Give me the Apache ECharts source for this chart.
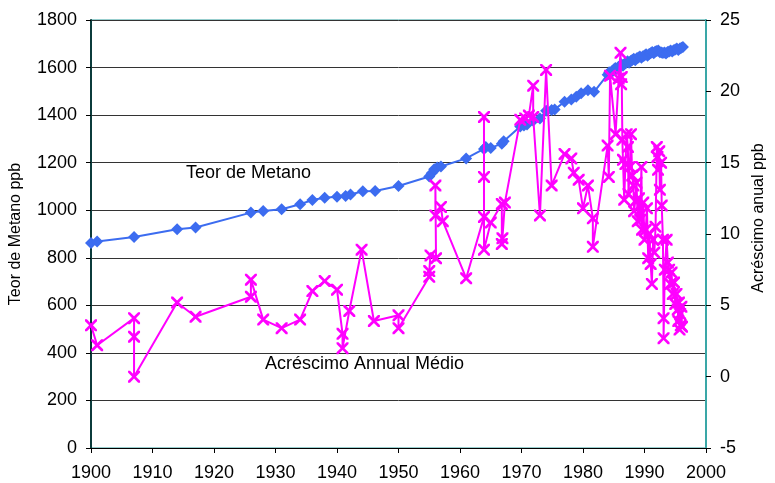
<!DOCTYPE html>
<html>
<head>
<meta charset="utf-8">
<script src="https://cdn.jsdelivr.net/npm/echarts@6/dist/echarts.min.js"></script>
<style>
  html, body { margin: 0; padding: 0; background: #fff; }
  #chart { width: 775px; height: 483px; }
</style>
</head>
<body>
<div id="chart"></div>
<script>
// Teor de Metano (ppb) - eixo esquerdo
const methaneYears = [
  1900, 1901, 1907, 1914, 1917, 1926, 1928, 1931, 1934, 1936, 1938, 1940, 1941.4, 1942.2,
  1944.2, 1946.2, 1950, 1955, 1955.4, 1955.8, 1956.3, 1956.9, 1961, 1963.9, 1964.2, 1965,
  1966.8, 1967.1, 1969.8, 1970.4, 1970.9, 1971.9, 1973, 1974, 1974.9, 1975.4, 1977, 1978.1,
  1978.9, 1979.7, 1980.8, 1981.8,
  1984.0, 1984.25, 1984.5, 1984.75, 1985.0, 1985.25, 1985.5, 1985.75, 1986.0, 1986.25,
  1986.5, 1986.75, 1987.0, 1987.25, 1987.5, 1987.75, 1988.0, 1988.25, 1988.5, 1988.75,
  1989.0, 1989.25, 1989.5, 1989.75, 1990.0, 1990.25, 1990.5, 1990.75, 1991.0, 1991.25,
  1991.5, 1991.75, 1992.0, 1992.25, 1992.5, 1992.75, 1993.0, 1993.25, 1993.5, 1993.75,
  1994.0, 1994.25, 1994.5, 1994.75, 1995.0, 1995.25, 1995.5, 1995.75, 1996.0, 1996.25
];
const methanePpb = [
  862, 868, 887, 920, 927, 990, 997, 1004, 1025, 1043, 1052, 1057, 1060, 1066,
  1080, 1081, 1102, 1142, 1155, 1172, 1180, 1184, 1218, 1258, 1266, 1262,
  1280, 1290, 1352, 1356, 1360, 1376, 1386, 1418, 1422, 1424, 1456, 1466,
  1477, 1492, 1505, 1498,
  1570, 1580, 1576, 1586, 1592, 1598, 1594, 1602, 1608, 1614,
  1608, 1616, 1620, 1626, 1620, 1628, 1632, 1637, 1631, 1639,
  1642, 1647, 1641, 1648, 1651, 1656, 1650, 1657, 1660, 1665,
  1660, 1667, 1670, 1672, 1664, 1663, 1661, 1663, 1659, 1665,
  1668, 1672, 1667, 1673, 1676, 1680, 1674, 1680, 1683, 1686
];

// Acréscimo anual (ppb/ano) - eixo direito
const growthYears = [
  1900, 1901, 1907, 1907, 1907, 1914, 1917, 1926, 1926, 1928, 1931, 1934, 1936, 1938,
  1940, 1940.9, 1940.9, 1942, 1944, 1946, 1950, 1950, 1955, 1955, 1955.2, 1956.1, 1956,
  1956, 1956.9, 1957.2, 1961, 1963.9, 1963.9, 1963.9, 1963.9, 1965, 1966.8, 1966.8,
  1966.9, 1967.3, 1969.8, 1970.6, 1971.2, 1971.9, 1971.9, 1973, 1974, 1974.9, 1977,
  1978.1, 1978.5, 1979.3, 1980, 1980.8, 1981.6, 1981.6,
  1984.0, 1984.2, 1984.4, 1985.3, 1985.8, 1986.1, 1986.2, 1986.3, 1986.4, 1986.5,
  1986.7, 1986.9, 1987.1, 1987.3, 1987.4, 1987.6, 1987.8, 1988.0, 1988.2, 1988.3,
  1988.5, 1988.7, 1988.9, 1989.1, 1989.3, 1989.5, 1989.6, 1989.8, 1990.0, 1990.2,
  1990.4, 1990.6, 1990.8, 1991.0, 1991.2, 1991.4, 1991.6, 1991.8, 1992.0, 1992.1,
  1992.2, 1992.4, 1992.5, 1992.7, 1992.8, 1993.0, 1993.1, 1993.1, 1993.3, 1993.6,
  1993.8, 1994.0, 1994.2, 1994.4, 1994.6, 1994.8, 1995.0, 1995.2, 1995.4, 1995.5,
  1995.6, 1995.7, 1995.8, 1995.9, 1996.0, 1996.1
];
const growthPpb = [
  3.6, 2.2, 4.1, 2.8, 0.0, 5.2, 4.2, 5.6, 6.8, 4.0, 3.4, 4.0, 6.0, 6.7,
  6.1, 3.0, 2.0, 4.6, 8.9, 3.9, 4.3, 3.4, 7.0, 7.4, 8.5, 8.3, 13.4,
  11.3, 11.9, 10.9, 6.9, 11.2, 18.2, 14.0, 8.9, 10.8, 12.1, 9.3,
  9.7, 12.2, 18.0, 18.1, 18.3, 20.4, 18.2, 11.3, 21.5, 13.4, 15.6,
  15.3, 14.3, 13.8, 11.8, 13.4, 11.1, 9.1,
  16.2, 14.0, 21.1, 17.0, 20.9, 22.7, 20.5, 21.0, 16.6, 15.2,
  12.4, 14.9, 17.0, 16.1, 12.8, 14.7, 17.0, 14.1, 13.4, 11.6,
  12.3, 13.6, 10.9, 12.5, 11.0, 14.7, 10.3, 12.2, 9.6, 10.3,
  11.8, 8.3, 10.0, 7.9, 6.5, 9.6, 8.7, 10.5, 16.1, 15.4,
  14.5, 15.8, 13.1, 15.0, 12.0, 9.6, 4.1, 2.7, 7.5, 9.6,
  8.0, 7.5, 6.5, 7.3, 5.8, 6.6, 5.1, 5.8, 4.7, 3.9,
  5.2, 3.3, 4.4, 3.6, 4.9, 3.5
];

const FONT = '"Liberation Sans", Arial, sans-serif';
const crossPath = 'path://M0,0L1.6,0L5,3.4L8.4,0L10,0L10,1.6L6.6,5L10,8.4L10,10L8.4,10L5,6.6L1.6,10L0,10L0,8.4L3.4,5L0,1.6Z';
const plain = (v) => String(v);

const chart = echarts.init(document.getElementById('chart'), null, { renderer: 'canvas' });

const option = {
  backgroundColor: '#fff',
  animation: false,
  textStyle: { fontFamily: FONT },
  grid: {
    left: 91, right: 62, top: 20, bottom: 35,
    show: true, borderColor: '#2e9c9c', borderWidth: 1, backgroundColor: '#fff'
  },
  xAxis: {
    type: 'value', min: 1900, max: 2000, interval: 10,
    axisLine: { lineStyle: { color: '#000', width: 1 } },
    axisTick: { show: true, length: 5, lineStyle: { color: '#000' } },
    axisLabel: { color: '#000', fontSize: 18, fontFamily: FONT, margin: 16, formatter: plain },
    splitLine: { show: false }
  },
  yAxis: [
    {
      type: 'value', min: 0, max: 1800, interval: 200, position: 'left',
      name: 'Teor de Metano ppb', nameLocation: 'middle', nameGap: 67, nameRotate: 90,
      nameTextStyle: { color: '#000', fontSize: 16, fontFamily: FONT },
      axisLine: { show: true, lineStyle: { color: '#0b3b3b', width: 2 } },
      axisTick: { show: true, length: 5, lineStyle: { color: '#000' } },
      axisLabel: { color: '#000', fontSize: 18, fontFamily: FONT, margin: 14, formatter: plain },
      splitLine: { show: true, lineStyle: { color: '#333', width: 1 } }
    },
    {
      type: 'value', min: -5, max: 25, interval: 5, position: 'right',
      name: 'Acréscimo anual ppb', nameLocation: 'middle', nameGap: 45, nameRotate: 90,
      nameTextStyle: { color: '#000', fontSize: 16, fontFamily: FONT, padding: [0, 0, 0, 32] },
      axisLine: { show: true, lineStyle: { color: '#3aa7a7', width: 2 } },
      axisTick: { show: true, length: 5, lineStyle: { color: '#000' } },
      axisLabel: { color: '#000', fontSize: 18, fontFamily: FONT, margin: 14, formatter: plain },
      splitLine: { show: false }
    }
  ],
  graphic: [
    {
      type: 'text', left: 186, top: 164,
      style: { text: 'Teor de Metano', fontSize: 18, fontFamily: FONT, fill: '#000' }
    },
    {
      type: 'text', left: 265, top: 355,
      style: { text: 'Acréscimo Annual Médio', fontSize: 18, fontFamily: FONT, fill: '#000' }
    }
  ],
  series: [
    {
      name: 'Teor de Metano',
      type: 'line',
      yAxisIndex: 0,
      data: methaneYears.map((y, i) => [y, methanePpb[i]]),
      symbol: 'diamond', symbolSize: 12,
      lineStyle: { color: '#3c6cf0', width: 2 },
      itemStyle: { color: '#3c6cf0' },
      z: 2
    },
    {
      name: 'Acréscimo Annual Médio',
      type: 'line',
      yAxisIndex: 1,
      data: growthYears.map((y, i) => [y, growthPpb[i]]),
      symbol: crossPath, symbolSize: 12,
      lineStyle: { color: '#ff00ff', width: 2 },
      itemStyle: { color: '#ff00ff' },
      z: 3
    }
  ]
};

chart.setOption(option);
</script>
</body>
</html>
